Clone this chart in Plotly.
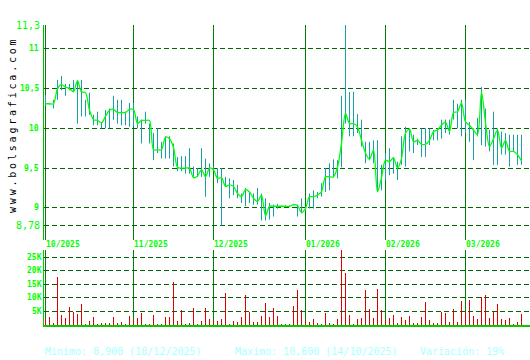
import plotly.graph_objects as go

W, H = 530, 360

close = [10.31, 10.31, 10.31, 10.50, 10.55, 10.52, 10.50, 10.46, 10.60, 10.46,
         10.45, 10.23, 10.11, 10.10, 10.07, 10.15, 10.23, 10.24, 10.20, 10.20,
         10.20, 10.24, 10.24, 10.06, 10.10, 10.10, 10.10, 9.73, 9.73, 9.73,
         9.89, 9.87, 9.76, 9.51, 9.50, 9.50, 9.50, 9.38, 9.40, 9.48,
         9.39, 9.50, 9.48, 9.37, 9.38, 9.27, 9.29, 9.27, 9.18, 9.14,
         9.23, 9.20, 9.12, 9.08, 9.16, 8.90, 9.02, 9.02, 9.02, 9.02,
         9.02, 9.02, 9.04, 9.03, 8.94, 8.99, 9.14, 9.14, 9.16, 9.20,
         9.39, 9.39, 9.39, 9.51, 9.81, 10.19, 10.06, 10.06, 10.02, 9.85,
         9.69, 9.61, 9.73, 9.20, 9.38, 9.60, 9.58, 9.63, 9.50, 9.62,
         9.94, 9.99, 9.83, 9.85, 9.80, 9.80, 9.85, 9.96, 9.98, 10.04,
         10.08, 9.96, 10.20, 10.21, 10.32, 10.08, 10.04, 9.98, 9.92, 10.46,
         10.07, 9.77, 9.87, 9.98, 9.75, 9.85, 9.71, 9.71, 9.67, 9.59]

high = [10.42, 10.31, 10.36, 10.61, 10.66, 10.56, 10.56, 10.61, 10.61, 10.61,
        10.36, 10.45, 10.17, 10.21, 10.08, 10.23, 10.25, 10.41, 10.36, 10.36,
        10.21, 10.32, 10.32, 10.15, 10.11, 10.21, 10.06, 9.94, 10.00, 9.83,
        9.90, 9.90, 9.81, 9.64, 9.65, 9.65, 9.75, 9.52, 9.50, 9.75,
        9.62, 9.56, 9.52, 9.50, 9.50, 9.39, 9.37, 9.35, 9.29, 9.18,
        9.25, 9.20, 9.18, 9.25, 9.18, 9.12, 9.06, 9.04, 9.05, 9.03,
        9.03, 9.03, 9.05, 9.04, 9.12, 9.02, 9.18, 9.22, 9.20, 9.31,
        9.50, 9.56, 9.61, 9.60, 10.41, 11.30, 10.46, 10.46, 10.18, 10.11,
        9.83, 9.83, 9.85, 9.85, 9.54, 9.69, 9.75, 9.64, 9.58, 9.90,
        10.02, 10.00, 9.92, 9.87, 10.00, 10.00, 10.00, 9.98, 10.00, 10.11,
        10.11, 10.11, 10.36, 10.31, 10.36, 10.36, 10.08, 10.00, 10.13, 10.52,
        10.25, 9.98, 10.21, 10.00, 9.96, 9.94, 9.92, 9.92, 9.92, 9.92]

low = [10.29, 10.30, 10.25, 10.36, 10.48, 10.41, 10.48, 10.46, 10.06, 10.15,
       10.15, 10.17, 10.04, 10.04, 10.00, 10.00, 10.00, 10.11, 10.06, 10.04,
       10.04, 10.02, 10.02, 10.00, 9.81, 10.06, 9.81, 9.60, 9.69, 9.62,
       9.62, 9.62, 9.52, 9.46, 9.46, 9.43, 9.43, 9.39, 9.39, 9.39,
       9.14, 9.39, 9.47, 9.31, 8.78, 9.27, 9.12, 9.16, 9.12, 9.06,
       9.02, 9.06, 9.04, 9.04, 8.84, 8.84, 8.85, 8.89, 8.99, 9.01,
       9.01, 9.01, 9.03, 8.89, 8.93, 8.96, 8.99, 8.99, 9.12, 9.14,
       9.20, 9.22, 9.39, 9.37, 9.51, 10.06, 9.90, 9.90, 9.94, 9.77,
       9.56, 9.60, 9.56, 9.20, 9.22, 9.35, 9.41, 9.43, 9.35, 9.54,
       9.52, 9.71, 9.69, 9.79, 9.64, 9.64, 9.79, 9.85, 9.85, 9.87,
       9.94, 9.92, 10.11, 10.00, 9.90, 9.94, 9.83, 9.60, 9.90, 9.79,
       9.77, 9.71, 9.54, 9.54, 9.67, 9.67, 9.52, 9.71, 9.54, 9.54]

volume = [2300, 2900, 700, 17700, 3600, 2500, 6600, 4700, 4000, 7700,
          300, 1400, 2900, 300, 700, 700, 700, 2900, 700, 1000,
          100, 3300, 1400, 2500, 4400, 100, 100, 3600, 300, 300,
          2900, 2900, 15900, 1400, 5500, 100, 700, 6200, 300, 1400,
          6200, 2100, 1400, 1400, 2100, 11800, 300, 1400, 1000, 2900,
          11000, 4700, 1000, 1000, 3300, 8100, 2900, 6200, 3300, 300,
          300, 300, 7000, 12900, 5500, 1400, 1000, 2100, 700, 100,
          4400, 700, 300, 2100, 27700, 19200, 3600, 100, 2100, 2500,
          12900, 5800, 2500, 13300, 5500, 2000, 2500, 3600, 700, 2900,
          1800, 3300, 700, 700, 2900, 8400, 1800, 700, 700, 4700,
          4400, 1000, 5800, 1000, 8800, 4700, 9200, 3300, 2100, 10300,
          11000, 2500, 4700, 7700, 2100, 1800, 2500, 300, 1000, 4000]

month_labels = ["10/2025", "11/2025", "12/2025", "01/2026", "02/2026", "03/2026"]
month_idx = [0, 22, 42, 65, 85, 105]

price_ticks = [9, 9.5, 10, 10.5, 11]
price_tick_text = ["9", "9,5", "10", "10,5", "11"]
price_ext = [8.78, 11.3]
price_ext_text = ["8,78", "11,3"]

vol_ticks = [5000, 10000, 15000, 20000, 25000]
vol_tick_text = ["5K", "10K", "15K", "20K", "25K"]

footer = ["Minimo: 8,900 (18/12/2025)", "Maximo: 10,600 (14/10/2025)", "Variación: 19%"]
footer_px = [45, 235, 420]

watermark = "www.bolsagrafica.com"

n = len(close)
idx = list(range(n))

def px_x(p):
    return p / W

def px_y(p):
    return 1 - p / H

hx, hy = [], []
for i in idx:
    hx += [i, i, None]
    hy += [low[i], high[i], None]

MONO = "DejaVu Sans Mono"
GRID = "#006600"
MONTH = "#008000"
LAB = "#00ff00"

fig = go.Figure()
fig.add_trace(go.Scatter(x=hx, y=hy, mode="lines", line=dict(color="#18a0a8", width=1),
                         xaxis="x", yaxis="y", hoverinfo="skip", showlegend=False))
fig.add_trace(go.Scatter(x=idx, y=close, mode="lines",
                         line=dict(color="#00ff00", width=1.3, shape="spline", smoothing=0.8),
                         xaxis="x", yaxis="y", showlegend=False))
fig.add_trace(go.Bar(x=idx, y=volume, width=0.25, marker=dict(color="#e00000", line=dict(width=0)),
                     xaxis="x2", yaxis="y2", showlegend=False))

x_left_px = 44
x0_px = 45.5
step = 4.0
xr = [(x_left_px - x0_px) / step, (W - x0_px) / step]

p_top_px, p_bot_px = 25, 240
p_min_px = 225.3
pmin, pmax = min(low), max(high)
scale = (p_min_px - p_top_px) / (pmax - pmin)
p_range = [pmax - (p_bot_px - p_top_px) / scale, pmax + 0.001]

v_top_px, v_bot_px = 250, 325
v_range = [0, max(volume)]

fig.update_layout(
    width=W, height=H, margin=dict(l=0, r=0, t=0, b=0),
    paper_bgcolor="white", plot_bgcolor="white",
    bargap=0,
    xaxis=dict(domain=[px_x(x_left_px), 1], range=xr, anchor="y",
               tickvals=month_idx, showticklabels=False, ticks="",
               showgrid=True, gridcolor=MONTH, gridwidth=1, zeroline=False, showline=False),
    yaxis=dict(domain=[px_y(p_bot_px), px_y(p_top_px)], range=p_range, anchor="x",
               tickvals=price_ticks + price_ext, showticklabels=False, ticks="",
               showgrid=True, gridcolor=GRID, griddash="5px,3px", gridwidth=1,
               zeroline=False, showline=True, linecolor="#00bb00", linewidth=1),
    xaxis2=dict(domain=[px_x(x_left_px), 1], range=xr, anchor="y2",
                tickvals=month_idx, showticklabels=False, ticks="",
                showgrid=True, gridcolor=MONTH, gridwidth=1, zeroline=False,
                showline=True, linecolor="#00cc00", linewidth=2),
    yaxis2=dict(domain=[px_y(v_bot_px), px_y(v_top_px)], range=v_range, anchor="x2",
                tickvals=vol_ticks, showticklabels=False, ticks="",
                showgrid=True, gridcolor=GRID, griddash="5px,3px", gridwidth=1,
                zeroline=False, showline=True, linecolor="#00cc00", linewidth=1),
)

ann = []
for v, t in zip(price_ticks, price_tick_text):
    ann.append(dict(x=px_x(41), xref="paper", y=v, yref="y", text=t, showarrow=False,
                    xanchor="right", yanchor="middle",
                    font=dict(family=MONO, size=8, color=LAB, weight="bold")))
for v, t in zip(price_ext, price_ext_text):
    ann.append(dict(x=px_x(42), xref="paper", y=v, yref="y", text=t, showarrow=False,
                    xanchor="right", yanchor="middle",
                    font=dict(family=MONO, size=10, color=LAB)))
for v, t in zip(vol_ticks, vol_tick_text):
    ann.append(dict(x=px_x(44), xref="paper", y=v, yref="y2", text=t, showarrow=False,
                    xanchor="right", yanchor="middle",
                    font=dict(family=MONO, size=8, color=LAB, weight="bold")))
for m, t in zip(month_idx, month_labels):
    ann.append(dict(x=m, xref="x", y=px_y(244.5), yref="paper", text=t, showarrow=False,
                    xanchor="left", yanchor="middle", xshift=-2,
                    font=dict(family=MONO, size=8, color=LAB, weight="bold")))
for t, p in zip(footer, footer_px):
    ann.append(dict(x=px_x(p), xref="paper", y=px_y(351), yref="paper", text=t, showarrow=False,
                    xanchor="left", yanchor="middle", xshift=-2,
                    font=dict(family=MONO, size=10, color="#aaffff")))
ann.append(dict(x=px_x(12), xref="paper", y=px_y(125), yref="paper",
                text='<span style="letter-spacing:2.8px">' + watermark + '</span>',
                showarrow=False, textangle=-90, xanchor="center", yanchor="middle",
                font=dict(family=MONO, size=10, color="black")))
fig.update_layout(annotations=ann)

fig.write_html("out.html")
